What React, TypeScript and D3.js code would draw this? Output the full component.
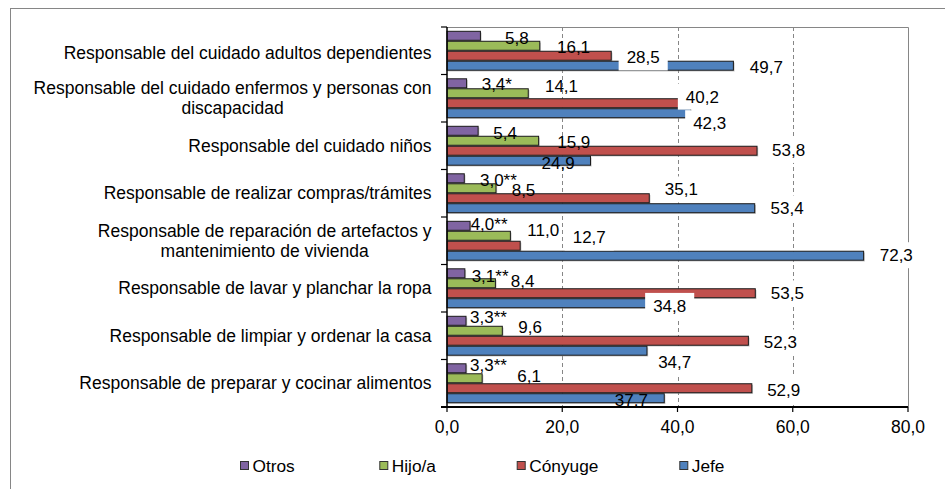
import React, { useEffect, useRef } from "react";
import * as d3 from "d3";

const categories = [
  "Responsable del cuidado adultos dependientes",
  "Responsable del cuidado enfermos y personas con discapacidad",
  "Responsable del cuidado niños",
  "Responsable de realizar compras/trámites",
  "Responsable de reparación de artefactos y mantenimiento de vivienda",
  "Responsable de lavar y planchar la ropa",
  "Responsable de limpiar y ordenar la casa",
  "Responsable de preparar y cocinar alimentos",
];
const seriesNames = ["Otros", "Hijo/a", "Cónyuge", "Jefe"];
const otros = [5.8, 3.4, 5.4, 3.0, 4.0, 3.1, 3.3, 3.3];
const otrosMarks = ["", "*", "", "**", "**", "**", "**", "**"];
const hijo = [16.1, 14.1, 15.9, 8.5, 11.0, 8.4, 9.6, 6.1];
const conyuge = [28.5, 40.2, 53.8, 35.1, 12.7, 53.5, 52.3, 52.9];
const jefe = [49.7, 42.3, 24.9, 53.4, 72.3, 34.8, 34.7, 37.7];
const xTicks = [0, 20, 40, 60, 80];

// layout (not data): manual label offsets [dx from bar end, dy from bar centre]
const labelOffsets = [
  [[24.6, 1.9], [15.1, 0.7], [15.2, 2.5], [15.7, 1.7], [0.6, -1.8], [6.8, 2.7], [4, -3.8], [4, -3.3]],
  [[17.2, 1.2], [16.7, -7.3], [18.6, 1.7], [15.7, 2.2], [16.9, -5.8], [15.3, -2.3], [15.9, -3.3], [35.1, -2.3]],
  [[15.4, 1.7], [7.2, -6.6], [15.1, -0.8], [15.6, -8.8], [52.5, -8.3], [15.5, 0.2], [15.4, 1.7], [15.3, 1.7]],
  [[16.4, 1.7], [2.4, 10], [-48.9, 2.7], [15.8, 0.2], [16.1, -0.5], [5.6, 2.7], [11.2, 11.2], [-49.4, 1.7]],
];
const labelBoxed = [
  [false, false, false, false, false, false, false, false],
  [false, false, false, false, false, false, false, false],
  [true, true, true, true, true, true, true, true],
  [true, true, false, true, true, true, true, false],
];
const catLabelShift = [2, 0, 0, 0, 0, 0, 0, 0];
const legendX = [240, 379.3, 516.7, 679.3];
const colors = ["#8064A2", "#9BBB59", "#C0504D", "#4F81BD"];

const W = 945;
const H = 489;
const FONT = "'Liberation Sans', Arial, sans-serif";

export default function App() {
  const ref = useRef<SVGSVGElement | null>(null);

  useEffect(() => {
    const svg = d3.select(ref.current);
    svg.selectAll("*").remove();
    const values = [otros, hijo, conyuge, jefe];
    const fmt = (v: number) => d3.format(".1f")(v).replace(".", ",");

    const x = d3.scaleLinear().domain([0, 80]).range([447, 908]);
    const y = d3.scaleBand<string>().domain(categories).range([27, 407]).paddingInner(0.16).paddingOuter(0.08);
    const ys = d3.scaleBand<string>().domain(seriesNames).range([0, y.bandwidth()]);
    const top = 27, bottom = 407;

    // outer chart border
    svg.append("rect").attr("x", 10.5).attr("y", 8.5).attr("width", 1000).attr("height", 1000)
      .attr("fill", "#fff").attr("stroke", "#868686").attr("stroke-width", 1);

    // gridlines
    const g = svg.append("g");
    g.selectAll("line.grid").data(xTicks.filter((t) => t > 0 && t < 80)).enter().append("line")
      .attr("x1", (d) => Math.round(x(d)) + 0.5).attr("x2", (d) => Math.round(x(d)) + 0.5)
      .attr("y1", top).attr("y2", bottom)
      .attr("stroke", "#868686").attr("stroke-width", 1).attr("stroke-dasharray", "4,3");
    // plot area border top/right
    g.append("path")
      .attr("d", `M${x(0)},${top + 0.5}H${Math.round(x(80)) + 0.5}V${bottom}`)
      .attr("fill", "none").attr("stroke", "#868686").attr("stroke-width", 1);

    // bars
    seriesNames.forEach((s, si) => {
      const vals = values[si];
      const bg = g.append("g");
      bg.selectAll("rect.shadow").data(vals).enter().append("rect")
        .attr("x", x(0) + 1.2)
        .attr("y", (_, i) => (y(categories[i]) as number) + (ys(s) as number) + 0.5 + 1.3)
        .attr("width", (d) => x(d) - x(0))
        .attr("height", ys.bandwidth() - 1)
        .attr("fill", "#9a9a9a").attr("opacity", 0.55);
      bg.selectAll("rect.bar").data(vals).enter().append("rect")
        .attr("x", x(0))
        .attr("y", (_, i) => (y(categories[i]) as number) + (ys(s) as number) + 0.5)
        .attr("width", (d) => x(d) - x(0))
        .attr("height", ys.bandwidth() - 1)
        .attr("fill", colors[si]).attr("stroke", "#1a1a1a").attr("stroke-width", 1);
    });

    // axes
    g.append("line").attr("x1", x(0)).attr("x2", x(0)).attr("y1", top).attr("y2", bottom + 1)
      .attr("stroke", "#000").attr("stroke-width", 1.5);
    g.append("line").attr("x1", x(0) - 6).attr("x2", x(80)).attr("y1", bottom).attr("y2", bottom)
      .attr("stroke", "#000").attr("stroke-width", 2);
    const bounds = categories.map((c) => (y(c) as number) - y.step() * 0.08).concat([bottom]);
    g.selectAll("line.ytick").data(bounds).enter().append("line")
      .attr("x1", x(0) - 6).attr("x2", x(0)).attr("y1", (d) => d).attr("y2", (d) => d)
      .attr("stroke", "#000").attr("stroke-width", 1.2);
    g.selectAll("line.xtick").data(xTicks).enter().append("line")
      .attr("x1", (d) => x(d)).attr("x2", (d) => x(d)).attr("y1", bottom).attr("y2", bottom + 5)
      .attr("stroke", "#000").attr("stroke-width", 1.2);
    g.selectAll("text.xtick").data(xTicks).enter().append("text")
      .attr("x", (d) => x(d)).attr("y", 432.5).attr("text-anchor", "middle")
      .attr("font-family", FONT).attr("font-size", 17.5).attr("fill", "#000")
      .text((d) => fmt(d));

    // category labels with wrapping
    const maxW = 410;
    const rightX = 431.5;
    categories.forEach((c, i) => {
      const t = g.append("text").attr("font-family", FONT).attr("font-size", 17.5).attr("fill", "#000");
      const words = c.split(" ");
      const lines: string[] = [];
      let cur = "";
      words.forEach((w) => {
        const trial = cur ? cur + " " + w : w;
        t.text(trial);
        if ((t.node() as SVGTextElement).getComputedTextLength() > maxW && cur) {
          lines.push(cur);
          cur = w;
        } else cur = trial;
      });
      lines.push(cur);
      t.text(null);
      const widths = lines.map((l) => {
        t.text(l);
        return (t.node() as SVGTextElement).getComputedTextLength();
      });
      t.text(null);
      const blockW = Math.max(...widths);
      const cx = rightX - blockW / 2;
      const cy = (y(c) as number) + y.bandwidth() / 2 + catLabelShift[i];
      const lh = 20;
      lines.forEach((l, li) => {
        t.append("tspan").attr("x", cx).attr("text-anchor", "middle")
          .attr("y", cy + (li - (lines.length - 1) / 2) * lh + 6)
          .text(l);
      });
    });

    // data labels
    seriesNames.forEach((s, si) => {
      const vals = values[si];
      vals.forEach((v, i) => {
        const [dx, dy] = labelOffsets[si][i];
        const lx = x(v) + dx;
        const cy = (y(categories[i]) as number) + (ys(s) as number) + ys.bandwidth() / 2 + dy;
        const label = fmt(v) + (si === 0 ? otrosMarks[i] : "");
        const lg = g.append("g");
        const rect = lg.append("rect");
        const txt = lg.append("text").attr("x", lx).attr("y", cy + 6)
          .attr("font-family", FONT).attr("font-size", 17).attr("fill", "#000").text(label);
        if (labelBoxed[si][i]) {
          const tw = (txt.node() as SVGTextElement).getComputedTextLength();
          rect.attr("x", lx - 8).attr("y", cy - 13).attr("width", tw + 16).attr("height", 26).attr("fill", "#fff");
        } else rect.remove();
      });
    });

    // legend
    const lgd = svg.append("g");
    seriesNames.forEach((s, si) => {
      lgd.append("rect").attr("x", legendX[si] + 0.5).attr("y", 461.5).attr("width", 8).attr("height", 8)
        .attr("fill", colors[si]).attr("stroke", "#333").attr("stroke-width", 1);
      lgd.append("text").attr("x", legendX[si] + 12.5).attr("y", 472)
        .attr("font-family", FONT).attr("font-size", 17.3).attr("fill", "#000").text(s);
    });
  }, []);

  return (
    <svg ref={ref} width={W} height={H} style={{ position: "absolute", left: 0, top: 0, background: "#fff" }} />
  );
}
